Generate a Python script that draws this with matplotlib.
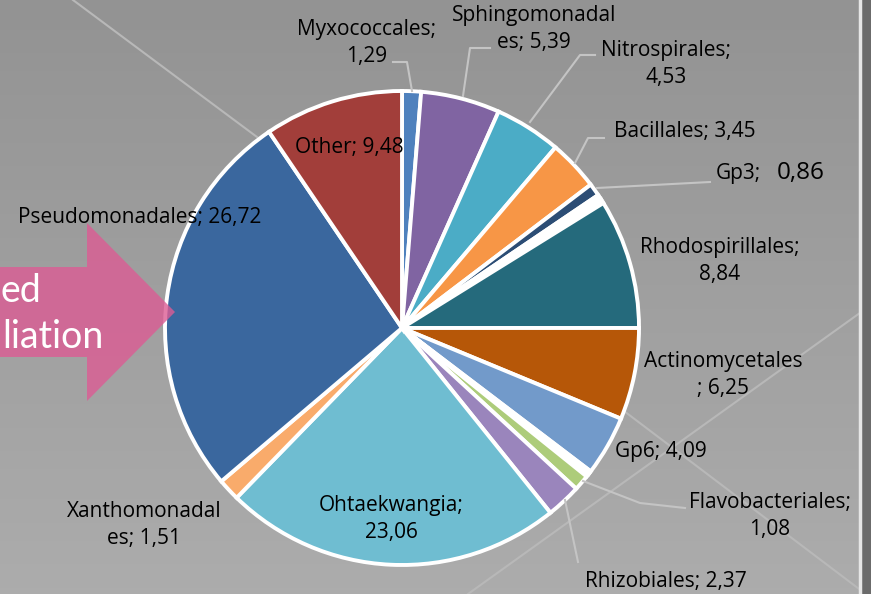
import numpy as np
import matplotlib
matplotlib.use('Agg')
import matplotlib.pyplot as plt
from matplotlib.patches import Polygon

# pie data (clockwise from 12 o'clock), tiny unlabeled slices included
names = ['Myxococcales', 'Sphingomonadal\nes', 'Nitrospirales', 'Bacillales', 'Gp3',
         '', '', '', 'Rhodospirillales', 'Actinomycetales\n', 'Gp6', '', '', '',
         'Flavobacteriales', 'Rhizobiales', 'Ohtaekwangia', 'Xanthomonadal\nes',
         'Pseudomonadales', 'Other']
values = [1.29, 5.39, 4.53, 3.45, 0.86,
          0.30, 0.04, 0.30, 8.84, 6.25, 4.09, 0.20, 0.04, 0.20,
          1.08, 2.37, 23.06, 1.51, 26.72, 9.48]
colors = ['#4F81BD', '#8064A2', '#4BACC6', '#F79646', '#2C4D75',
          '#FFFFFF', '#5F497A', '#FFFFFF', '#256A7C', '#B65708', '#729ACA',
          '#FFFFFF', '#D9534F', '#FFFFFF',
          '#ADCC7A', '#9A85BC', '#6FBDD1', '#F9AB6B', '#3A679E', '#A23E3A']

W, H = 871, 594
fig = plt.figure(figsize=(W / 100, H / 100), dpi=100)
ax = fig.add_axes([0, 0, 1, 1])

def iy(y):
    return H - y

# background gradient (darker at the top)
grad = np.linspace(0, 1, 100).reshape(-1, 1)
ax.imshow(grad, extent=[0, W, 0, H], cmap=matplotlib.colors.LinearSegmentedColormap.from_list(
    'bg', ['#939393', '#acacac']), aspect='auto', zorder=0)

# decorative background lines
for (x0, y0, x1, y1) in [(73, 0, 257, 137), (871, 305, 468, 594), (620, 408, 871, 598)]:
    ax.plot([x0, x1], [iy(y0), iy(y1)], color='#b8b8b8', lw=1.5, zorder=1)
ax.axvspan(861, W, color='#6b6b6b', zorder=1)
ax.plot([859.5, 859.5], [0, H], color='#e6e6e6', lw=2.5, zorder=1)

ax.pie(values, colors=colors, startangle=90, counterclock=False,
       center=(402, iy(328)), radius=237,
       wedgeprops=dict(edgecolor='white', linewidth=2.8))

# leader lines
leaders = [[(393, 62), (407, 62), (412, 91)],
           [(490, 48), (470, 48), (463, 96)],
           [(595, 55), (580, 55), (530, 122)],
           [(604, 138), (588, 138), (575, 163)],
           [(710, 182), (597, 188)],
           [(685, 508), (640, 503), (583, 481)],
           [(565, 500), (578, 562)]]
for pts in leaders:
    xs, ys = zip(*pts)
    ax.plot(xs, [iy(v) for v in ys], color='#c4c4c4', lw=1.5, zorder=3)

# labels
fs = 15
font = 'Open Sans'
def lab(i, sep):
    return names[i] + sep + f'{values[i]:.2f}'.replace('.', ',')

label_pos = {0: (367, 43, ';\n'), 1: (534, 29, '; '), 2: (666, 64, ';\n'),
             3: (685, 131, '; '), 8: (720, 261, ';\n'), 9: (723, 375, '; '),
             10: (661, 451, '; '), 14: (770, 516, ';\n'), 15: (666, 582, '; '),
             16: (391, 519, ';\n'), 17: (144, 525, '; '), 18: (140, 218, '; '),
             19: (349, 148, '; ')}
for i, (x, y, sep) in label_pos.items():
    ax.text(x, iy(y), lab(i, sep), ha='center', va='center', fontsize=fs,
            family=font, color='black', linespacing=1.42, zorder=5)
ax.text(716, iy(173), names[4] + ';', ha='left', va='center', fontsize=fs,
        family=font, zorder=5)
ax.text(777, iy(173), f'{values[4]:.2f}'.replace('.', ','), ha='left', va='center',
        fontsize=17.5, family=font, zorder=5)

# pink arrow
arrow = Polygon([(0, iy(267)), (87, iy(267)), (87, iy(223)), (175, iy(312)),
                 (87, iy(401)), (87, iy(357)), (0, iy(357))],
                closed=True, facecolor='#DC5C94', alpha=0.8, edgecolor='none', zorder=6)
ax.add_patch(arrow)
ax.text(1, iy(291), 'ed', ha='left', va='center', fontsize=27, color='white',
        family='Lato', zorder=7)
ax.text(2, iy(337), 'liation', ha='left', va='center', fontsize=27, color='white',
        family='Lato', zorder=7)

ax.set_xlim(0, W)
ax.set_ylim(0, H)
ax.set_aspect('auto')
ax.axis('off')
fig.savefig('out.png', dpi=100)
